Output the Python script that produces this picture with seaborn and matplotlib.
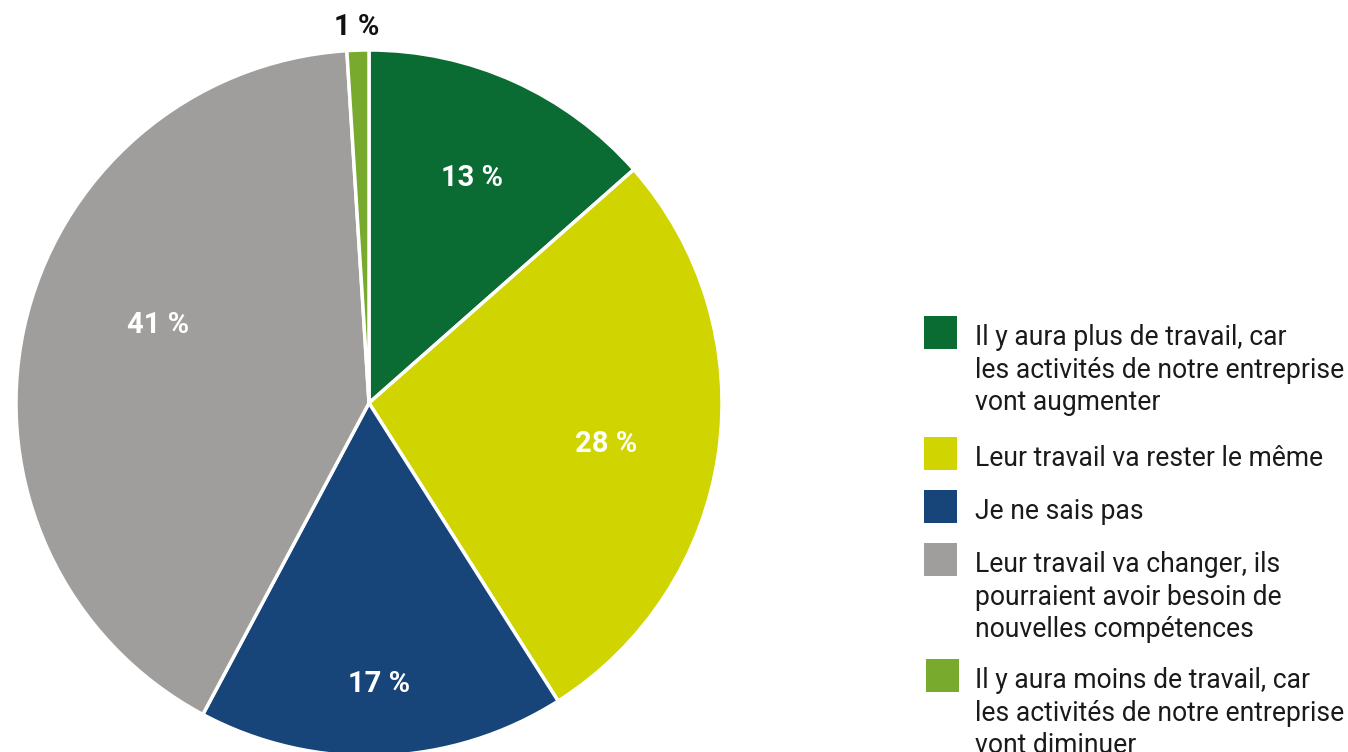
import numpy as np
import matplotlib
matplotlib.use("Agg")
import matplotlib.pyplot as plt
import seaborn as sns
from matplotlib.patches import Rectangle

# ---- data ----
categories = [
    "Il y aura plus de travail, car\nles activités de notre entreprise\nvont augmenter",
    "Leur travail va rester le même",
    "Je ne sais pas",
    "Leur travail va changer, ils\npourraient avoir besoin de\nnouvelles compétences",
    "Il y aura moins de travail, car\nles activités de notre entreprise\nvont diminuer",
]
values = [13.5, 27.5, 16.8, 41.2, 1.0]
value_labels = ["13\u202f%", "28\u202f%", "17\u202f%", "41\u202f%", "1\u202f%"]
colors = ["#0A6B33", "#D0D400", "#17457A", "#A09E9C", "#78AA2E"]
label_colors = ["white", "white", "white", "white", "#111111"]

# layout of labels (fraction of radius, angular offset in degrees)
label_radius = [0.71, 0.68, 0.787, 0.64, 1.075]
label_angle_offset = [0, -1.0, 0, -8.7, 0]

sns.set_theme(style="white")
plt.rcParams["font.family"] = ["Roboto", "DejaVu Sans"]

W, H = 1348, 752
fig = plt.figure(figsize=(W / 100, H / 100), dpi=100)
fig.patch.set_facecolor("white")

cx, cy, R = 369, 403, 353
ax = fig.add_axes([(cx - R) / W, (H - cy - R) / H, 2 * R / W, 2 * R / H])
wedges, _ = ax.pie(values, colors=colors, startangle=90, counterclock=False,
                   wedgeprops=dict(edgecolor="white", linewidth=2.5))
ax.set_xlim(-1, 1)
ax.set_ylim(-1, 1)
ax.set_aspect("equal")
ax.axis("off")

for w, lab, r, off, c in zip(wedges, value_labels, label_radius, label_angle_offset, label_colors):
    ang = np.deg2rad((w.theta1 + w.theta2) / 2 + off)
    ax.text(r * np.cos(ang), r * np.sin(ang), lab, ha="center", va="center_baseline",
            color=c, fontsize=21, fontweight="bold", clip_on=False)

# ---- legend ----
sq = 33
square_tops = [316, 437, 490, 543, 659]
square_lefts = [924, 924, 924, 924, 926]
text_left = 975
for cat, col, top, left in zip(categories, colors, square_tops, square_lefts):
    fig.patches.append(Rectangle((left / W, (H - top - sq) / H), sq / W, sq / H,
                                 transform=fig.transFigure, facecolor=col,
                                 edgecolor="none"))
    fig.text(text_left / W, (H - top - 8) / H, cat, ha="left", va="top",
             fontsize=19.1, color="#1a1a1a", linespacing=1.27)

fig.savefig("out.png", dpi=100, facecolor="white")
